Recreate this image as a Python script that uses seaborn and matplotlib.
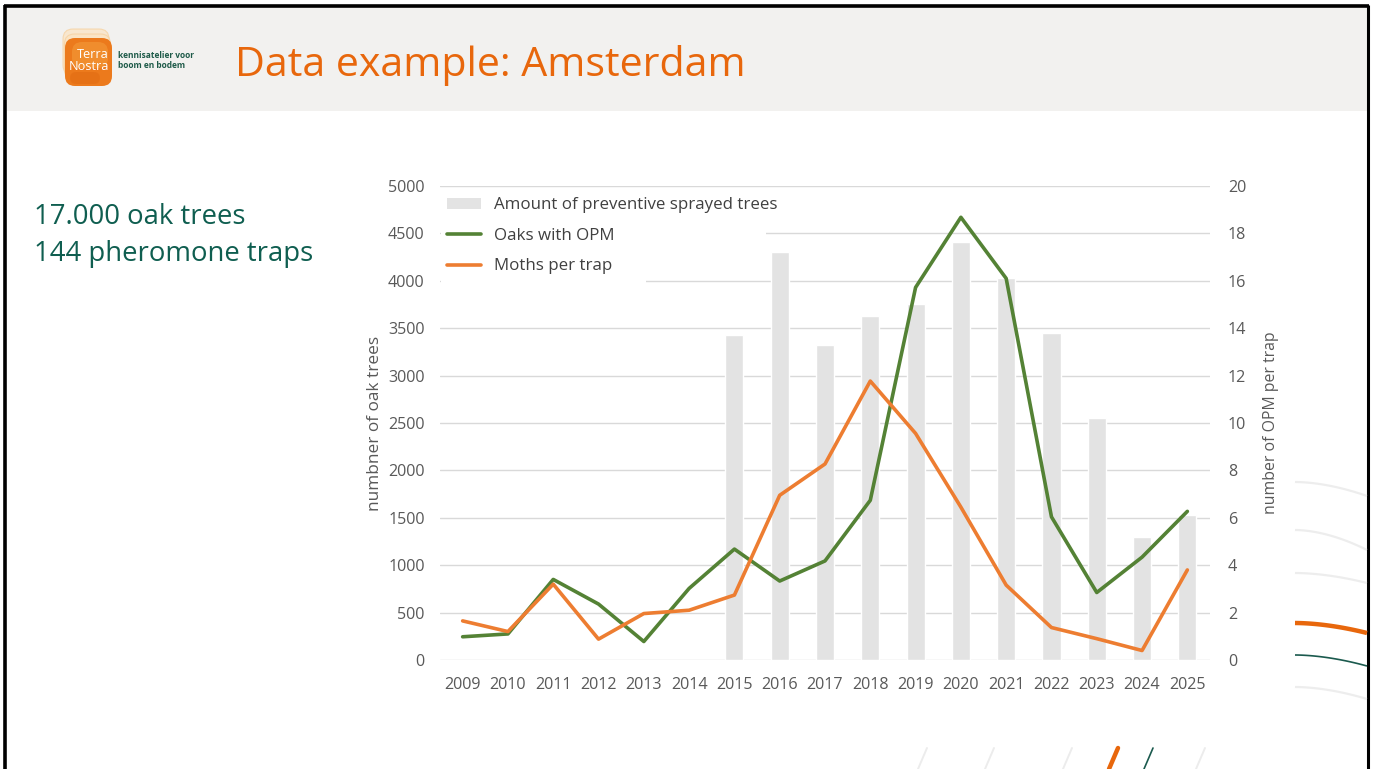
import numpy as np
import pandas as pd
import matplotlib
matplotlib.use("Agg")
import matplotlib.pyplot as plt
import seaborn as sns
from matplotlib.patches import FancyBboxPatch, Rectangle, Patch
from matplotlib.lines import Line2D

# ---- data -------------------------------------------------------------
years = [str(y) for y in range(2009, 2026)]
sprayed_trees = [np.nan, np.nan, np.nan, np.nan, np.nan, np.nan,
                 3430, 4305, 3320, 3630, 3760, 4410, 4030, 3450, 2550, 1300, 1530]
oaks_with_opm = [245, 275, 850, 590, 195, 755, 1170, 833, 1045, 1685,
                 3930, 4670, 4025, 1510, 712, 1085, 1568]
moths_per_trap = [1.65, 1.2, 3.2, 0.88, 1.96, 2.1, 2.74, 6.95, 8.27, 11.77,
                  9.56, 6.45, 3.16, 1.37, 0.9, 0.4, 3.8]

left_ticks = list(range(0, 5001, 500))
right_ticks = list(range(0, 21, 2))

title = "Data example: Amsterdam"
facts = ["17.000 oak trees", "144 pheromone traps"]

# ---- style ------------------------------------------------------------
sns.set_style("white")
plt.rcParams["font.family"] = ["Open Sans", "DejaVu Sans"]

W, H = 1375, 769
fig = plt.figure(figsize=(W / 100, H / 100), dpi=100)
fig.patch.set_facecolor("white")

ORANGE_TITLE = "#E8670C"
TEAL = "#0F5E50"
GREY_TXT = "#595959"
BAR = "#E3E3E3"
GREEN = "#548235"
ORANGE = "#ED7D31"

# background layer in pixel coordinates (y downward)
bg = fig.add_axes([0, 0, 1, 1], zorder=0)
bg.set_xlim(0, W)
bg.set_ylim(H, 0)
bg.axis("off")

# header band and slide frame
bg.add_patch(Rectangle((7, 7), 1361, 104, color="#F2F1EF", lw=0))
bg.plot([5, 5], [5, H], color="black", lw=2.6, solid_capstyle="butt")
bg.plot([4, 1369], [5.5, 5.5], color="black", lw=2.6, solid_capstyle="butt")
bg.plot([1368.5, 1368.5], [5, H], color="black", lw=2.2, solid_capstyle="butt")

# logo
for dx, dy in [(-3, -11), (-1.5, -6)]:
    bg.add_patch(FancyBboxPatch((66 + dx, 40 + dy), 46, 46,
                                boxstyle="round,pad=0,rounding_size=10",
                                fc="#FBE3C2", ec="#F6CF9A", lw=0.8, alpha=0.7))
bg.add_patch(FancyBboxPatch((65, 38), 47, 48,
                            boxstyle="round,pad=0,rounding_size=10",
                            fc="#EC7A1C", ec="none"))
bg.add_patch(FancyBboxPatch((72, 42), 36, 26,
                            boxstyle="round,pad=0,rounding_size=10",
                            fc="#F39A3A", ec="none", alpha=0.6))
bg.add_patch(FancyBboxPatch((70, 72), 30, 12,
                            boxstyle="round,pad=0,rounding_size=6",
                            fc="#E06A12", ec="none", alpha=0.5))
bg.text(109, 54, "Terra", color="white", fontsize=9.2, ha="right", va="center")
bg.text(109, 66, "Nostra", color="white", fontsize=9.2, ha="right", va="center")
bg.text(118, 56, "kennisatelier voor", color="#1E5A48", fontsize=6.0,
        fontweight="bold", ha="left", va="center")
bg.text(118, 66, "boom en bodem", color="#1E5A48", fontsize=6.0,
        fontweight="bold", ha="left", va="center")

# title and side facts
bg.text(235, 65, title, color=ORANGE_TITLE, fontsize=29.6, ha="left", va="center")
bg.text(34, 217, facts[0], color=TEAL, fontsize=19.8, ha="left", va="center")
bg.text(34, 254, facts[1], color=TEAL, fontsize=19.8, ha="left", va="center")


# decorative arcs on the right edge
def arc(x0, y0, x1, sag, color, lw, alpha=1.0):
    t = np.linspace(0, 1, 60)
    xs = x0 + (x1 - x0) * t
    ys = y0 + sag * t ** 1.8
    bg.plot(xs, ys, color=color, lw=lw, alpha=alpha, solid_capstyle="butt")


for y0, sag in [(482, 14), (530, 20), (573, 10), (687, 12)]:
    arc(1295, y0, 1367, sag, "#E6E6E6", 1.6, 0.7)
arc(1295, 623, 1367, 10, "#E8670C", 3.2)
arc(1295, 655, 1367, 11, "#1B5A4E", 1.2)

# decorative slashes along the bottom
for x in [918, 985, 1063, 1196]:
    bg.plot([x + 9, x], [748, 769], color="#ECECEC", lw=1.4)
bg.plot([1118, 1109], [748, 769], color="#E8670C", lw=3.2)
bg.plot([1153, 1144], [748, 769], color="#1B5A4E", lw=1.2)

# ---- chart ------------------------------------------------------------
df = pd.DataFrame({
    "year": years,
    "sprayed": sprayed_trees,
    "oaks": oaks_with_opm,
    "moths": moths_per_trap,
})
df["pos"] = np.arange(len(df))

ax = fig.add_axes([440 / W, 1 - 660 / H, 770 / W, 474 / H], zorder=2)
ax.patch.set_alpha(0)
sns.barplot(data=df, x="year", y="sprayed", order=years, color=BAR,
            saturation=1, width=0.4, ax=ax, zorder=2)
sns.lineplot(data=df, x="pos", y="oaks", color=GREEN, lw=2.6, ax=ax, zorder=3)

ax2 = ax.twinx()
sns.lineplot(data=df, x="pos", y="moths", color=ORANGE, lw=2.6, ax=ax2, zorder=3)

ax.set_xlim(-0.5, len(years) - 0.5)
ax.set_ylim(0, 5000)
ax2.set_ylim(0, 20)
ax.set_yticks(left_ticks)
ax2.set_yticks(right_ticks)
ax.set_xticks(df["pos"])
ax.set_xticklabels(years)

ax.set_axisbelow(True)
ax.yaxis.grid(True, color="#D9D9D9", lw=1.0)
ax.xaxis.grid(False)
for a in (ax, ax2):
    for s in a.spines.values():
        s.set_visible(False)
ax.tick_params(axis="y", length=0, pad=11, labelsize=11.6, labelcolor=GREY_TXT)
ax.tick_params(axis="x", length=0, pad=12, labelsize=11.6, labelcolor=GREY_TXT)
ax2.tick_params(axis="y", length=0, pad=13, labelsize=11.6, labelcolor=GREY_TXT)

ax.set_xlabel("")
ax.set_ylabel("numbner of oak trees", color=GREY_TXT, fontsize=12.4, labelpad=4)
ax2.set_ylabel("number of OPM per trap", color=GREY_TXT, fontsize=11.4,
               rotation=90, labelpad=12)

# white backing behind the legend block (stepped, so the 2016 bar stays visible)
for (x0, y0, x1, y1) in [(441, 192, 766, 258), (441, 258, 646, 285)]:
    ax2.add_patch(Rectangle((x0, y0), x1 - x0, y1 - y0, transform=bg.transData,
                            fc="white", ec="none", zorder=4, clip_on=False))

handles = [
    Patch(facecolor=BAR, edgecolor="none"),
    Line2D([], [], color=GREEN, lw=2.6),
    Line2D([], [], color=ORANGE, lw=2.6),
]
labels = ["Amount of preventive sprayed trees", "Oaks with OPM", "Moths per trap"]
leg = ax2.legend(handles, labels, loc="upper left",
                 bbox_to_anchor=(443 / W, 1 - 193 / H),
                 bbox_transform=fig.transFigure, borderaxespad=0,
                 frameon=False, fontsize=12.2,
                 handlelength=2.0, handleheight=0.6, handletextpad=0.75,
                 labelspacing=0.86, borderpad=0.25)
leg.set_zorder(5)
for t in leg.get_texts():
    t.set_color("#404040")

fig.savefig("out.png", dpi=100, facecolor="white")
